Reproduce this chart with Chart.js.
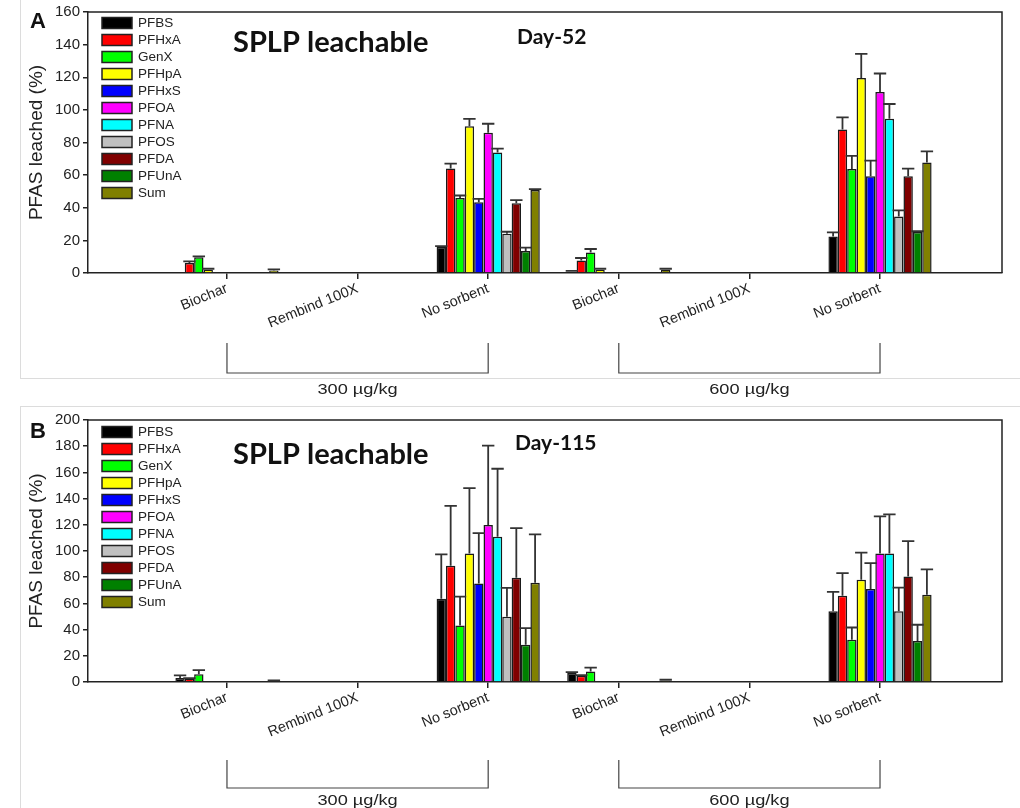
<!DOCTYPE html>
<html>
<head>
<meta charset="utf-8">
<script src="https://cdn.jsdelivr.net/npm/chart.js@4.4.1/dist/chart.umd.min.js"></script>
<style>
  body { margin: 0; background: #fff; }
  .panel { position: absolute; left: 0; width: 1020px; }
</style>
</head>
<body>
<div class="panel" style="top:0;height:405px"><canvas id="chartA" width="1020" height="405"></canvas></div>
<div class="panel" style="top:390px;height:418px"><canvas id="chartB" width="1020" height="418"></canvas></div>
<script>
const series = ['PFBS', 'PFHxA', 'GenX', 'PFHpA', 'PFHxS', 'PFOA', 'PFNA', 'PFOS', 'PFDA', 'PFUnA', 'Sum'];
const seriesColors = ['#000000', '#ff0000', '#00ff00', '#ffff00', '#0000ff', '#ff00ff', '#00ffff', '#c0c0c0', '#800000', '#008000', '#808000'];
const categories = ['Biochar', 'Rembind 100X', 'No sorbent', 'Biochar', 'Rembind 100X', 'No sorbent'];
const groupLabels = ['300 µg/kg', '600 µg/kg'];
const groupSpans = [[0, 2], [3, 5]];

// Day-52, mean % leached per category (series order as above)
const d52Biochar300 = [0, 6.1, 9.6, 2.0, 0, 0, 0, 0, 0, 0, 1.6];
const d52Rembind300 = [0, 0, 0, 0, 0, 0, 0, 0, 0, 0, 0];
const d52None300 = [16, 64, 46, 90, 43.4, 86, 73.8, 24, 42.7, 13.5, 50.9];
const d52Biochar600 = [0.8, 7.7, 12.6, 2.0, 0, 0, 0, 0, 0, 0, 2.0];
const d52Rembind600 = [0, 0, 0, 0, 0, 0, 0, 0, 0, 0, 0];
const d52None600 = [22.4, 87.9, 63.8, 119.6, 59.3, 111, 94.6, 34.7, 59.3, 25.1, 67.8];
// Day-52 error bars (upper)
const d52Biochar300Err = [0, 1.0, 0.6, 0.6, 0, 0, 0, 0, 0, 0, 0.6];
const d52Rembind300Err = [0, 0, 0, 0, 0, 0, 0, 0, 0, 0, 0];
const d52None300Err = [0.5, 3, 1.5, 4.5, 2, 5.5, 2.5, 1.3, 2, 2, 0.5];
const d52Biochar600Err = [0.5, 1.5, 2.1, 0.6, 0, 0, 0, 0, 0, 0, 0.6];
const d52Rembind600Err = [0, 0, 0, 0, 0, 0, 0, 0, 0, 0, 0];
const d52None600Err = [2.5, 7.5, 8, 14.7, 9.6, 11.3, 9, 3.7, 4.7, 0.5, 6.8];

// Day-115
const d115Biochar300 = [3, 2.5, 6, 0, 0, 0, 0, 0, 0, 0, 0.6];
const d115Rembind300 = [0, 0, 0, 0, 0, 0, 0, 0, 0, 0, 0];
const d115None300 = [63.5, 88.7, 43.2, 98, 75.2, 119.9, 110.8, 49.8, 79.5, 28.4, 75.7];
const d115Biochar600 = [6.8, 4.8, 8, 0, 0, 0, 0, 0, 0, 0, 1];
const d115Rembind600 = [0, 0, 0, 0, 0, 0, 0, 0, 0, 0, 0];
const d115None600 = [54.1, 65.8, 32.2, 78, 70.9, 98, 98, 54.1, 80.5, 31.3, 66.6];
const d115Biochar300Err = [2, 0.5, 3, 0, 0, 0, 0, 0, 0, 0, 0.6];
const d115Rembind300Err = [0, 0, 0, 0, 0, 0, 0, 0, 0, 0, 0];
const d115None300Err = [34, 45.7, 22, 50, 38.4, 60.5, 52, 22, 38, 12.7, 37];
const d115Biochar600Err = [0.8, 0.4, 3, 0, 0, 0, 0, 0, 0, 0, 0.7];
const d115Rembind600Err = [0, 0, 0, 0, 0, 0, 0, 0, 0, 0, 0];
const d115None600Err = [14.7, 17.3, 9.4, 20.8, 19.8, 28.5, 30, 18, 27, 12.4, 19.3];

const yTicksA = { max: 160, step: 20 };
const yTicksB = { max: 200, step: 20 };
const xRange = { min: -1.064, max: 5.934 };

const SANS = '"Liberation Sans", Arial, sans-serif';
Chart.defaults.font.family = SANS;
Chart.defaults.color = '#222';

function buildDatasets(means, errs) {
  return series.map((name, s) => ({
    label: name,
    data: means.map((m, c) => ({ x: c, y: m[s] })),
    errors: errs.map(e => e[s]),
    backgroundColor: seriesColors[s],
    borderColor: '#1a1a1a',
    borderWidth: 1.5,
    categoryPercentage: 0.79,
    barPercentage: 1
  }));
}

const errorBars = {
  id: 'errorBars',
  afterDatasetsDraw(chart) {
    const ctx = chart.ctx;
    const y = chart.scales.y;
    ctx.save();
    ctx.strokeStyle = '#333';
    ctx.lineWidth = 1.8;
    chart.data.datasets.forEach((ds, i) => {
      chart.getDatasetMeta(i).data.forEach((bar, j) => {
        const e = ds.errors[j];
        if (!e) return;
        const top = y.getPixelForValue(ds.data[j].y + e);
        const half = bar.width / 2 + 1.5;
        ctx.beginPath();
        ctx.moveTo(bar.x, bar.y);
        ctx.lineTo(bar.x, top);
        ctx.moveTo(bar.x - half, top);
        ctx.lineTo(bar.x + half, top);
        ctx.stroke();
      });
    });
    ctx.restore();
  }
};

const decor = {
  id: 'decor',
  afterDraw(chart, args, opts) {
    const { ctx, chartArea: a } = chart;
    const x = chart.scales.x;
    ctx.save();

    // faint frame of the original figure
    ctx.strokeStyle = '#dcdcdc';
    ctx.lineWidth = 1;
    ctx.beginPath();
    opts.frame.forEach(([x0, y0, x1, y1]) => { ctx.moveTo(x0, y0); ctx.lineTo(x1, y1); });
    ctx.stroke();

    // top + right of the plot box
    ctx.strokeStyle = '#222';
    ctx.lineWidth = 1.5;
    ctx.beginPath();
    ctx.moveTo(a.left, a.top);
    ctx.lineTo(a.right, a.top);
    ctx.lineTo(a.right, a.bottom);
    ctx.stroke();

    // legend
    ctx.font = '13.5px ' + SANS;
    ctx.textBaseline = 'middle';
    ctx.textAlign = 'left';
    series.forEach((name, i) => {
      const yy = a.top + opts.legendTop + 17 * i;
      ctx.fillStyle = seriesColors[i];
      ctx.fillRect(a.left + 14, yy - 5.5, 30, 11);
      ctx.strokeStyle = '#222';
      ctx.lineWidth = 1.5;
      ctx.strokeRect(a.left + 14, yy - 5.5, 30, 11);
      ctx.fillStyle = '#222';
      ctx.fillText(name, a.left + 50, yy + 0.5);
    });

    // group brackets
    ctx.strokeStyle = '#444';
    ctx.lineWidth = 1.2;
    ctx.textAlign = 'center';
    groupSpans.forEach(([i0, i1], g) => {
      const x0 = x.getPixelForValue(i0);
      const x1 = x.getPixelForValue(i1);
      const yT = a.bottom + opts.bracket[0];
      const yB = a.bottom + opts.bracket[1];
      ctx.beginPath();
      ctx.moveTo(x0, yT);
      ctx.lineTo(x0, yB);
      ctx.lineTo(x1, yB);
      ctx.lineTo(x1, yT);
      ctx.stroke();
      ctx.save();
      ctx.translate((x0 + x1) / 2, a.bottom + opts.bracket[2]);
      ctx.scale(1.3, 1);
      ctx.font = '14px ' + SANS;
      ctx.fillStyle = '#222';
      ctx.fillText(groupLabels[g], 0, 0);
      ctx.restore();
    });

    // panel letter and titles
    ctx.fillStyle = '#111';
    ctx.textAlign = 'left';
    ctx.font = 'bold 22px ' + SANS;
    ctx.fillText(opts.letter, 30, opts.letterY);
    ctx.font = 'bold 29px Lato, "Open Sans", sans-serif';
    ctx.fillText('SPLP leachable', 233, opts.titleY);
    ctx.font = 'bold 21px Lato, "Open Sans", sans-serif';
    ctx.fillText(opts.day, opts.dayX, opts.dayY);
    ctx.restore();
  }
};

function makeChart(id, means, errs, yTicks, pad, xHeight, decorOpts) {
  return new Chart(document.getElementById(id), {
    type: 'bar',
    data: { datasets: buildDatasets(means, errs) },
    plugins: [errorBars, decor],
    options: {
      responsive: false,
      animation: false,
      layout: { padding: pad },
      scales: {
        x: {
          type: 'linear',
          min: xRange.min,
          max: xRange.max,
          offset: false,
          afterBuildTicks: s => { s.ticks = categories.map((_, i) => ({ value: i })); },
          afterFit: s => { s.height = xHeight; },
          ticks: {
            autoSkip: false,
            minRotation: 22,
            maxRotation: 22,
            padding: 1,
            font: { size: 14.5 },
            callback: v => categories[v] ?? ''
          },
          grid: { offset: false, drawOnChartArea: false, tickLength: 6, color: '#222', lineWidth: 1.5 },
          border: { color: '#222', width: 1.5 }
        },
        y: {
          min: 0,
          max: yTicks.max,
          afterFit: s => { s.width = 67; },
          ticks: { stepSize: yTicks.step, padding: 3, font: { size: 15 } },
          grid: { drawOnChartArea: false, tickLength: 5, color: '#222', lineWidth: 1.5 },
          border: { color: '#222', width: 1.5 },
          title: { display: true, text: 'PFAS leached (%)', font: { size: 19 }, padding: { top: 4, bottom: 4 } }
        }
      },
      plugins: {
        legend: { display: false },
        tooltip: { enabled: true },
        decor: decorOpts
      }
    }
  });
}

makeChart('chartA',
  [d52Biochar300, d52Rembind300, d52None300, d52Biochar600, d52Rembind600, d52None600],
  [d52Biochar300Err, d52Rembind300Err, d52None300Err, d52Biochar600Err, d52Rembind600Err, d52None600Err],
  yTicksA, { left: 21, top: 12, right: 18, bottom: 25 }, 107,
  { letter: 'A', letterY: 22, titleY: 43, day: 'Day-52', dayX: 517, dayY: 37, legendTop: 11,
    bracket: [70, 100, 117], frame: [[20.5, 0, 20.5, 378], [20, 378.5, 1020, 378.5]] });

makeChart('chartB',
  [d115Biochar300, d115Rembind300, d115None300, d115Biochar600, d115Rembind600, d115None600],
  [d115Biochar300Err, d115Rembind300Err, d115None300Err, d115Biochar600Err, d115Rembind600Err, d115None600Err],
  yTicksB, { left: 21, top: 30, right: 18, bottom: 0 }, 126,
  { letter: 'B', letterY: 42, titleY: 65, day: 'Day-115', dayX: 515, dayY: 53, legendTop: 12,
    bracket: [78, 106, 119], frame: [[20, 16.5, 1020, 16.5], [20.5, 16, 20.5, 418]] });
</script>
</body>
</html>
